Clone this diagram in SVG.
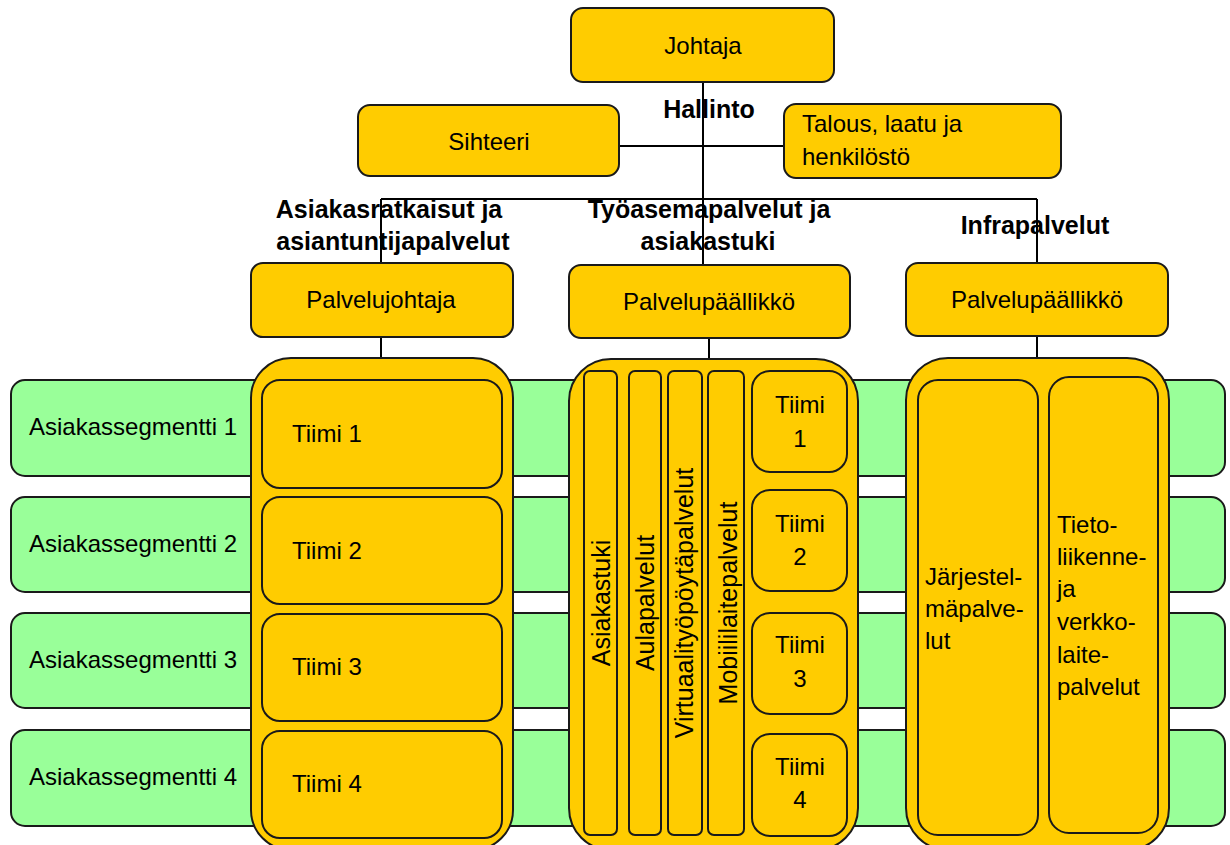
<svg xmlns="http://www.w3.org/2000/svg" width="1230" height="845" viewBox="0 0 1230 845">
<style>
.y{fill:#FFCC00;stroke:#1a1a1a;stroke-width:2}
.g{fill:#99FF99;stroke:#1a1a1a;stroke-width:2}
.ln{stroke:#000;stroke-width:2;fill:none}
text{font-family:"Liberation Sans",Arial,sans-serif;font-size:24px;fill:#000}
.b{font-weight:bold;font-size:25px}
.m{text-anchor:middle}
.v{font-size:25px;text-anchor:middle}
</style>
<rect width="1230" height="845" fill="#fff"/>
<g id="segments">
<g id="seg1"><rect class="g" x="11" y="380" width="1214" height="96" rx="14"/><text x="29" y="435">Asiakassegmentti 1</text></g>
<g id="seg2"><rect class="g" x="11" y="497" width="1214" height="95" rx="14"/><text x="29" y="552">Asiakassegmentti 2</text></g>
<g id="seg3"><rect class="g" x="11" y="613" width="1214" height="95" rx="14"/><text x="29" y="668">Asiakassegmentti 3</text></g>
<g id="seg4"><rect class="g" x="11" y="730" width="1214" height="96" rx="14"/><text x="29" y="785">Asiakassegmentti 4</text></g>
</g>
<g id="connectors">
<line class="ln" x1="703" y1="82" x2="703" y2="265"/>
<line class="ln" x1="619" y1="146" x2="784" y2="146"/>
<line class="ln" x1="381" y1="199" x2="1037" y2="199"/>
<line class="ln" x1="381" y1="199" x2="381" y2="263"/>
<line class="ln" x1="1037" y1="199" x2="1037" y2="263"/>
<line class="ln" x1="381" y1="337" x2="381" y2="358"/>
<line class="ln" x1="709" y1="338" x2="709" y2="359"/>
<line class="ln" x1="1037" y1="336" x2="1037" y2="358"/>
</g>
<g id="johtaja"><rect class="y" x="571" y="8" width="263" height="74" rx="12"/><text class="m" x="703" y="54">Johtaja</text></g>
<g id="hallinto"><text class="b m" x="709" y="118">Hallinto</text></g>
<g id="sihteeri"><rect class="y" x="358" y="105" width="261" height="71" rx="12"/><text class="m" x="489" y="150">Sihteeri</text></g>
<g id="talous"><rect class="y" x="784" y="104" width="277" height="74" rx="12"/><text x="802" y="132">Talous, laatu ja</text><text x="802" y="165">henkilöstö</text></g>
<g id="label-asiakasratkaisut"><text class="b m" x="389" y="218">Asiakasratkaisut ja</text><text class="b m" x="393" y="250">asiantuntijapalvelut</text></g>
<g id="label-tyoasema"><text class="b m" x="709" y="218">Työasemapalvelut ja</text><text class="b m" x="708" y="250">asiakastuki</text></g>
<g id="label-infra"><text class="b m" x="1035" y="234">Infrapalvelut</text></g>
<g id="palvelujohtaja"><rect class="y" x="251" y="263" width="262" height="74" rx="12"/><text class="m" x="381" y="308">Palvelujohtaja</text></g>
<g id="palvelupaallikko1"><rect class="y" x="569" y="265" width="281" height="73" rx="12"/><text class="m" x="709" y="310">Palvelupäällikkö</text></g>
<g id="palvelupaallikko2"><rect class="y" x="906" y="263" width="262" height="73" rx="12"/><text class="m" x="1037" y="308">Palvelupäällikkö</text></g>
<g id="col-left">
<rect class="y" x="251" y="358" width="262" height="492" rx="40"/>
<g id="l-tiimi1"><rect class="y" x="262" y="380" width="240" height="108" rx="18"/><text x="292" y="442">Tiimi 1</text></g>
<g id="l-tiimi2"><rect class="y" x="262" y="497" width="240" height="107" rx="18"/><text x="292" y="559">Tiimi 2</text></g>
<g id="l-tiimi3"><rect class="y" x="262" y="614" width="240" height="107" rx="18"/><text x="292" y="675">Tiimi 3</text></g>
<g id="l-tiimi4"><rect class="y" x="262" y="731" width="240" height="107" rx="18"/><text x="292" y="792">Tiimi 4</text></g>
</g>
<g id="col-mid">
<rect class="y" x="569" y="359" width="289" height="491" rx="42"/>
<g id="m-asiakastuki"><rect class="y" x="584" y="371" width="33" height="464" rx="6"/><text class="v" transform="translate(610,603) rotate(-90)">Asiakastuki</text></g>
<g id="m-aula"><rect class="y" x="629" y="371" width="32" height="464" rx="6"/><text class="v" transform="translate(654,603) rotate(-90)">Aulapalvelut</text></g>
<g id="m-virtuaali"><rect class="y" x="668" y="371" width="34" height="464" rx="6"/><text class="v" transform="translate(693,603) rotate(-90)">Virtuaalityöpöytäpalvelut</text></g>
<g id="m-mobiili"><rect class="y" x="708" y="371" width="36" height="464" rx="6"/><text class="v" transform="translate(737,603) rotate(-90)">Mobiililaitepalvelut</text></g>
<g id="m-tiimi1"><rect class="y" x="752" y="371" width="95" height="101" rx="18"/><text class="m" x="800" y="413">Tiimi</text><text class="m" x="800" y="447">1</text></g>
<g id="m-tiimi2"><rect class="y" x="752" y="490" width="95" height="101" rx="18"/><text class="m" x="800" y="532">Tiimi</text><text class="m" x="800" y="565">2</text></g>
<g id="m-tiimi3"><rect class="y" x="752" y="613" width="95" height="101" rx="18"/><text class="m" x="800" y="653">Tiimi</text><text class="m" x="800" y="687">3</text></g>
<g id="m-tiimi4"><rect class="y" x="752" y="734" width="95" height="102" rx="18"/><text class="m" x="800" y="775">Tiimi</text><text class="m" x="800" y="808">4</text></g>
</g>
<g id="col-right">
<rect class="y" x="906" y="358" width="263" height="492" rx="42"/>
<g id="r-jarjestelma"><rect class="y" x="918" y="380" width="120" height="455" rx="20"/><text x="925" y="585">Järjestel-</text><text x="925" y="617">mäpalve-</text><text x="925" y="649">lut</text></g>
<g id="r-tietoliikenne"><rect class="y" x="1049" y="377" width="109" height="456" rx="20"/><text x="1057" y="533">Tieto-</text><text x="1057" y="565">liikenne-</text><text x="1057" y="597">ja</text><text x="1057" y="630">verkko-</text><text x="1057" y="663">laite-</text><text x="1057" y="695">palvelut</text></g>
</g>
</svg>
